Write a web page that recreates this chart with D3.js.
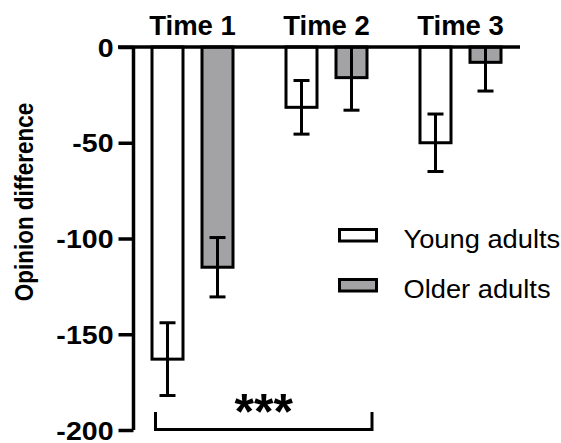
<!DOCTYPE html>
<html>
<head>
<meta charset="utf-8">
<script src="https://cdn.jsdelivr.net/npm/d3@7"></script>
<style>
  body { margin: 0; background: #fff; }
  text { font-family: "Liberation Sans", Arial, sans-serif; }
</style>
</head>
<body>
<script>
// chart data
var times = ["Time 1", "Time 2", "Time 3"];
var groups = ["Young adults", "Older adults"];
var youngMean = [-163, -31.5, -50];
var youngErr = [19, 14, 15];
var olderMean = [-115, -16, -8];
var olderErr = [15.5, 17, 15];
var yTicks = [0, -50, -100, -150, -200];
var sigPairs = [["Time 1", "Time 2", "***"]];

var width = 561,
    height = 443;

var svg = d3.select("body")
    .append("svg")
    .attr("width", width)
    .attr("height", height);

//scales
var x0 = d3.scaleBand()
    .domain(times)
    .range([125.5, 527.5]);

var x1 = d3.scaleBand()
    .domain(groups)
    .range([17, 117]);

var y = d3.scaleLinear()
    .domain([-200, 0])
    .range([430, 47]);

var fills = {"Young adults": "#ffffff", "Older adults": "#a3a3a6"};
var barW = 31;

//build rows for drawing
var rows = [];
times.forEach(function(t, i){
    rows.push({time: t, group: "Young adults", mean: youngMean[i], err: youngErr[i]});
    rows.push({time: t, group: "Older adults", mean: olderMean[i], err: olderErr[i]});
});

function cx(d){ return x0(d.time) + x1(d.group) + x1.bandwidth() / 2; }

//bars
svg.selectAll(".bar")
    .data(rows)
    .enter()
    .append("rect")
    .attr("class", "bar")
    .attr("x", function(d){ return cx(d) - barW / 2; })
    .attr("y", y(0))
    .attr("width", barW)
    .attr("height", function(d){ return y(d.mean) - y(0); })
    .attr("fill", function(d){ return fills[d.group]; })
    .attr("stroke", "#000")
    .attr("stroke-width", 3);

//error bars
var eb = svg.selectAll(".err")
    .data(rows)
    .enter()
    .append("g")
    .attr("class", "err")
    .attr("stroke", "#000")
    .attr("stroke-width", 3);

eb.append("line")
    .attr("x1", cx).attr("x2", cx)
    .attr("y1", function(d){ return y(Math.min(0, d.mean + d.err)); })
    .attr("y2", function(d){ return y(d.mean - d.err); });

eb.append("line")
    .attr("x1", function(d){ return cx(d) - 8; })
    .attr("x2", function(d){ return cx(d) + 8; })
    .attr("y1", function(d){ return y(d.mean - d.err); })
    .attr("y2", function(d){ return y(d.mean - d.err); });

eb.filter(function(d){ return d.mean + d.err < 0; })
    .append("line")
    .attr("x1", function(d){ return cx(d) - 8; })
    .attr("x2", function(d){ return cx(d) + 8; })
    .attr("y1", function(d){ return y(d.mean + d.err); })
    .attr("y2", function(d){ return y(d.mean + d.err); });

//y axis
var yAxis = d3.axisLeft(y)
    .tickValues(yTicks)
    .tickSize(15)
    .tickPadding(5)
    .tickFormat(function(d){ return String(d); });

var ax = svg.append("g")
    .attr("transform", "translate(133.5,0)")
    .call(yAxis);

ax.select(".domain").remove();
ax.selectAll(".tick line")
    .attr("stroke", "#000")
    .attr("stroke-width", 3.5);
ax.selectAll(".tick text")
    .attr("fill", "#000")
    .attr("font-size", 25.5)
    .attr("font-weight", "bold")
    .attr("dy", "0.36em")
    .attr("transform", function(d){ return "translate(-20," + y(d) + ") scale(1.12,1) translate(20," + (-y(d)) + ")"; });

ax.append("line")
    .attr("x1", 0).attr("x2", 0)
    .attr("y1", y(0)).attr("y2", y(-200))
    .attr("stroke", "#000")
    .attr("stroke-width", 3.5);

//zero line
svg.append("line")
    .attr("x1", 118)
    .attr("x2", 520)
    .attr("y1", y(0))
    .attr("y2", y(0))
    .attr("stroke", "#000")
    .attr("stroke-width", 3.5);

//time labels on top
svg.selectAll(".timeLabel")
    .data(times)
    .enter()
    .append("text")
    .attr("class", "timeLabel")
    .attr("x", function(d){ return x0(d) + x0.bandwidth() / 2; })
    .attr("y", 35)
    .attr("text-anchor", "middle")
    .attr("font-size", 27.5)
    .attr("font-weight", "bold")
    .text(function(d){ return d; });

//y axis title
svg.append("text")
    .attr("transform", "translate(33,202) rotate(-90) scale(0.9,1)")
    .attr("text-anchor", "middle")
    .attr("font-size", 25)
    .attr("font-weight", "bold")
    .text("Opinion difference");

//legend
var legend = svg.selectAll(".legend")
    .data(groups)
    .enter()
    .append("g")
    .attr("class", "legend")
    .attr("transform", function(d, i){ return "translate(339.5," + (229.5 + i * 50) + ")"; });

legend.append("rect")
    .attr("width", 37)
    .attr("height", 11.5)
    .attr("fill", function(d){ return fills[d]; })
    .attr("stroke", "#000")
    .attr("stroke-width", 3);

legend.append("text")
    .attr("transform", "translate(64,18.5) scale(1.07,1)")
    .attr("font-size", 25.5)
    .text(function(d){ return d; });

//significance bracket
sigPairs.forEach(function(p){
    var left = x0(p[0]) + 30,
        right = x0(p[1]) + 112.5,
        bot = 429.5,
        top = 412;
    svg.append("path")
        .attr("d", "M" + left + "," + top + "V" + bot + "H" + right + "V" + top)
        .attr("fill", "none")
        .attr("stroke", "#000")
        .attr("stroke-width", 3);
    svg.append("text")
        .attr("x", (left + right) / 2)
        .attr("y", 429)
        .attr("text-anchor", "middle")
        .attr("font-size", 50)
        .attr("font-weight", "bold")
        .text(p[2]);
});
</script>
</body>
</html>
